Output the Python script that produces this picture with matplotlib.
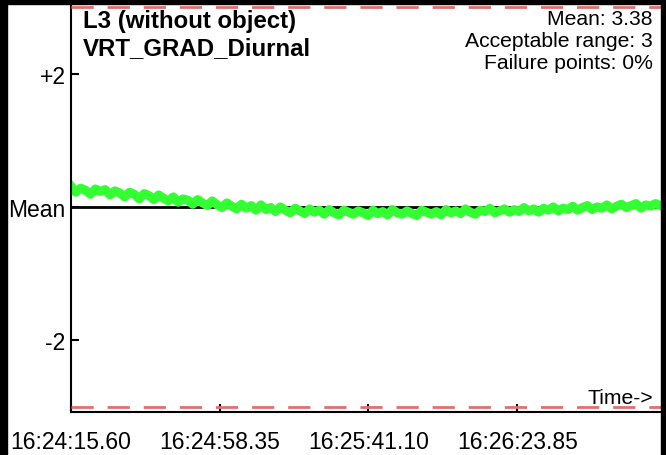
import numpy as np
import matplotlib.pyplot as plt
from matplotlib.patches import Rectangle

plt.rcParams['font.family'] = ['Liberation Sans', 'DejaVu Sans']

# deviation from the mean, one sample every sample_period seconds
deviation = [0.31, 0.22, 0.28, 0.25, 0.19, 0.27, 0.23, 0.26, 0.18, 0.24,
             0.21, 0.15, 0.22, 0.19, 0.12, 0.20, 0.17, 0.11, 0.18, 0.13,
             0.09, 0.15, 0.07, 0.12, 0.10, 0.04, 0.11, 0.06, 0.02, 0.09,
             0.03, -0.01, 0.06, 0.01, -0.03, 0.04, -0.02, 0.02, -0.05, 0.03,
             -0.04, -0.01, -0.07, 0.00, -0.05, -0.09, -0.02, -0.06, -0.10, -0.03,
             -0.08, -0.05, -0.11, -0.04, -0.09, -0.12, -0.05, -0.08, -0.11, -0.06,
             -0.09, -0.13, -0.05, -0.10, -0.07, -0.12, -0.04, -0.09, -0.11, -0.06,
             -0.10, -0.13, -0.05, -0.08, -0.11, -0.07, -0.12, -0.04, -0.09, -0.06,
             -0.10, -0.03, -0.08, -0.11, -0.05, -0.07, -0.02, -0.09, -0.06, -0.03,
             -0.08, -0.04, -0.07, -0.01, -0.06, -0.03, -0.08, -0.02, -0.05, 0.00,
             -0.06, -0.02, -0.04, 0.01, -0.05, -0.01, 0.02, -0.04, 0.00, -0.02,
             0.03, -0.03, 0.01, 0.04, -0.01, 0.02, 0.05, -0.02, 0.03, 0.01,
             0.05, 0.02]
sample_period = 1.4  # seconds

x_ticks = [0, 42.75, 85.5, 128.25]
x_labels = ['16:24:15.60', '16:24:58.35', '16:25:41.10', '16:26:23.85']
y_ticks = [-2, 0, 2]
y_labels = ['-2', 'Mean', '+2']
acc_range = 3
stats = ['Mean: 3.38', 'Acceptable range: 3', 'Failure points: 0%']
title = ['L3 (without object)', 'VRT_GRAD_Diurnal']

t = np.arange(len(deviation)) * sample_period

fig = plt.figure(figsize=(6.66, 4.56), dpi=100)
ax = fig.add_axes([0.1066, 0.0943, 0.886, 0.8967])

ax.axhline(0, color='black', lw=2, zorder=1)
ax.plot(t, deviation, color='#33ff33', lw=6.5, zorder=2)
for lim in (acc_range, -acc_range):
    ax.axhline(lim, color='#e07070', lw=2, dashes=(8, 5), zorder=3)

ax.set_xlim(0, 169.6)
ax.set_ylim(-3.08, 3.06)
ax.set_xticks(x_ticks, x_labels, fontsize=16.5)
ax.set_yticks(y_ticks, y_labels, fontsize=16.5)
ax.tick_params(direction='in', length=6, width=1.5)
ax.tick_params(axis='x', pad=13)
ax.tick_params(axis='y', pad=4)
ax.spines[['top', 'right']].set_visible(False)
for s in ('left', 'bottom'):
    ax.spines[s].set_linewidth(1.5)

ax.text(0.02, 0.985, '\n'.join(title), transform=ax.transAxes, ha='left', va='top',
        fontsize=17.3, fontweight='bold', linespacing=1.2)
ax.text(0.986, 0.985, '\n'.join(stats), transform=ax.transAxes, ha='right', va='top',
        fontsize=15.2, linespacing=1.2, multialignment='right')
ax.text(0.986, 0.012, 'Time->', transform=ax.transAxes, ha='right', va='bottom', fontsize=15.2)

# black frame round the picture
for r in [(0, 0, 7 / 666, 1), (0, 1 - 5 / 456, 1, 5 / 456), (661 / 666, 0, 5 / 666, 1)]:
    fig.add_artist(Rectangle(r[:2], r[2], r[3], transform=fig.transFigure,
                             color='black', zorder=10))

plt.savefig('out.png', dpi=100)
